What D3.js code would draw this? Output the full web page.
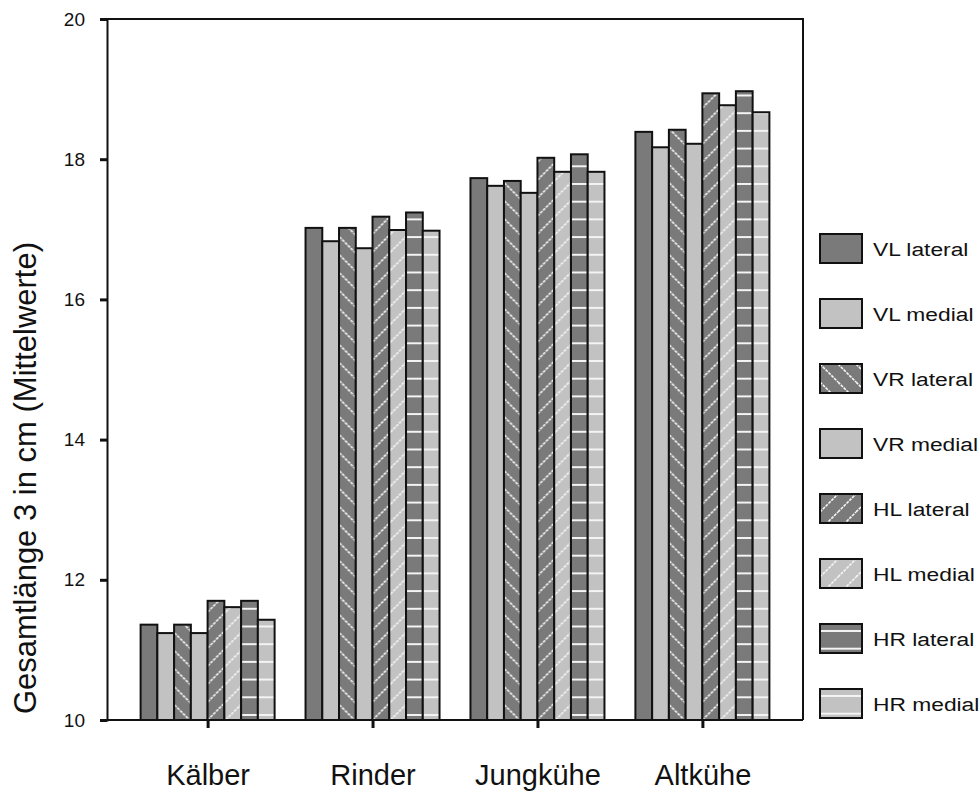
<!DOCTYPE html>
<html>
<head>
<meta charset="utf-8">
<script src="https://cdnjs.cloudflare.com/ajax/libs/d3/7.8.5/d3.min.js"></script>
<style>
  body { margin: 0; background: #fff; }
  svg text { font-family: "Liberation Sans", Arial, sans-serif; fill: #111; }
</style>
</head>
<body>
<div id="chart"></div>
<script>
var width = 980,
  height = 792;

// Data
var groups = ["Kälber", "Rinder", "Jungkühe", "Altkühe"];
var series = ["VL lateral", "VL medial", "VR lateral", "VR medial", "HL lateral", "HL medial", "HR lateral", "HR medial"];
var vlLateral = [11.36, 17.02, 17.73, 18.39];
var vlMedial = [11.24, 16.83, 17.62, 18.17];
var vrLateral = [11.36, 17.02, 17.69, 18.42];
var vrMedial = [11.24, 16.73, 17.52, 18.22];
var hlLateral = [11.70, 17.18, 18.02, 18.94];
var hlMedial = [11.61, 16.99, 17.82, 18.77];
var hrLateral = [11.70, 17.24, 18.07, 18.97];
var hrMedial = [11.43, 16.98, 17.82, 18.67];
var yTicks = [10, 12, 14, 16, 18, 20];
var yTitle = "Gesamtlänge 3 in cm (Mittelwerte)";

var values = [vlLateral, vlMedial, vrLateral, vrMedial, hlLateral, hlMedial, hrLateral, hrMedial];

// fill for each series
var dark = "#7a7a7a", light = "#c2c2c2";
var fills = ["dark", "light", "pVR", "light", "pHLl", "pHLm", "pHRl", "pHRm"];

var svg = d3.select("#chart").append("svg")
  .attr("width", width)
  .attr("height", height);

var defs = svg.append("defs");

function diagPattern(id, bg, down) {
  var s = 18;
  var p = defs.append("pattern")
    .attr("id", id)
    .attr("patternUnits", "userSpaceOnUse")
    .attr("width", s)
    .attr("height", s);
  p.append("rect").attr("width", s).attr("height", s).attr("fill", bg);
  var d = down
    ? "M-2," + (s - 2) + " l4,4 M0,0 l" + s + "," + s + " M" + (s - 2) + ",-2 l4,4"
    : "M-2,2 l4,-4 M0," + s + " l" + s + "," + (-s) + " M" + (s - 2) + "," + (s + 2) + " l4,-4";
  p.append("path").attr("d", d)
    .attr("stroke", "#f4f4f4")
    .attr("stroke-width", 1.6)
    .attr("stroke-dasharray", "3,1");
}

function horizPattern(id, bg) {
  var s = 17.7;
  var p = defs.append("pattern")
    .attr("id", id)
    .attr("patternUnits", "userSpaceOnUse")
    .attr("width", 40)
    .attr("height", s)
    .attr("y", 6);
  p.append("rect").attr("width", 40).attr("height", s).attr("fill", bg);
  p.append("line").attr("x1", 0).attr("x2", 40).attr("y1", 1).attr("y2", 1)
    .attr("stroke", "#f4f4f4").attr("stroke-width", 2);
}

diagPattern("pVR", dark, true);
diagPattern("pHLl", dark, false);
diagPattern("pHLm", light, false);
horizPattern("pHRl", dark);
horizPattern("pHRm", light);

function fillOf(i) {
  var f = fills[i];
  if (f === "dark") return dark;
  if (f === "light") return light;
  return "url(#" + f + ")";
}

// Scales
var x0 = d3.scalePoint()
  .domain(groups)
  .range([107, 803])
  .padding(0.61);

var x1 = d3.scaleBand()
  .domain(series)
  .range([-67, 67]);

var y = d3.scaleLinear()
  .domain([10, 20])
  .range([720, 19]);

// Frame
svg.append("path")
  .attr("d", "M107,19 H803 V720")
  .attr("fill", "none")
  .attr("stroke", "#111")
  .attr("stroke-width", 2);

// Bars
var g = svg.append("g");

groups.forEach(function (grp, gi) {
  g.append("g")
    .attr("transform", "translate(" + x0(grp) + ",0)")
    .selectAll("rect")
    .data(series)
    .enter()
    .append("rect")
    .attr("x", function (d) { return x1(d); })
    .attr("y", function (d, i) { return y(values[i][gi]); })
    .attr("width", x1.bandwidth())
    .attr("height", function (d, i) { return y(10) - y(values[i][gi]); })
    .attr("fill", function (d, i) { return fillOf(i); })
    .attr("stroke", "#111")
    .attr("stroke-width", 2);
});

// Y axis
var yAxis = svg.append("g")
  .attr("transform", "translate(107,0)")
  .call(d3.axisLeft(y).tickValues(yTicks).tickSize(7).tickPadding(15).tickFormat(d3.format("d")));

yAxis.select(".domain").attr("stroke", "#111").attr("stroke-width", 2);
yAxis.selectAll(".tick line").attr("stroke", "#111").attr("stroke-width", 3);
yAxis.selectAll(".tick text")
  .style("font-size", "19px")
  .attr("fill", "#111");

// X axis
var xAxis = svg.append("g")
  .attr("transform", "translate(0,720)")
  .call(d3.axisBottom(x0).tickSize(8).tickPadding(36));

xAxis.select(".domain").attr("d", "M107,0 H803").attr("stroke", "#111").attr("stroke-width", 2);
xAxis.selectAll(".tick line").attr("stroke", "#111").attr("stroke-width", 3);
xAxis.selectAll(".tick text")
  .style("font-size", "29px")
  .attr("fill", "#111");

// Y title
svg.append("text")
  .attr("transform", "translate(36,478) rotate(-90)")
  .attr("text-anchor", "middle")
  .style("font-size", "31px")
  .text(yTitle);

// Legend
var legend = svg.append("g").selectAll("g")
  .data(series)
  .enter()
  .append("g")
  .attr("transform", function (d, i) { return "translate(820," + (234 + i * 65) + ")"; });

legend.append("rect")
  .attr("width", 42)
  .attr("height", 29)
  .attr("fill", function (d, i) { return fillOf(i); })
  .attr("stroke", "#111")
  .attr("stroke-width", 2);

legend.append("text")
  .attr("transform", "translate(53,15) scale(1.2,1)")
  .attr("dy", "0.35em")
  .style("font-size", "19px")
  .text(function (d) { return d; });
</script>
</body>
</html>
